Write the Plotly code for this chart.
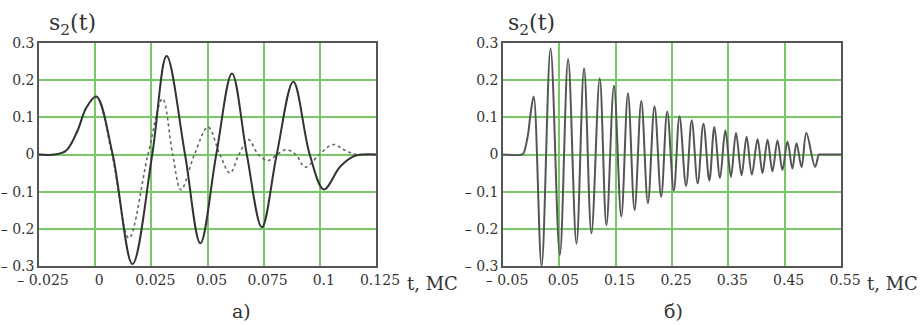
import plotly.graph_objects as go

# ---------------- data ----------------
# panel a) : time in ms, solid and dotted s2(t)
A_T_SOLID = [-0.025, -0.018, -0.013, -0.008, -0.004, 0.0005, 0.0078, 0.0166, 0.0254, 0.0318,
             0.0400, 0.0468, 0.0539, 0.0609, 0.0675, 0.0742, 0.0808, 0.0882, 0.0955, 0.1018,
             0.1090, 0.1150, 0.1190, 0.125]
A_V_SOLID = [0, 0, 0.010, 0.062, 0.125, 0.156, 0, -0.295, 0, 0.265,
             0, -0.239, 0, 0.218, 0, -0.196, 0, 0.196, 0, -0.094,
             -0.033, -0.005, 0, 0]

A_T_DOT = [-0.025, -0.018, -0.013, -0.008, -0.004, 0.0005, 0.0075, 0.0150, 0.0235, 0.0300,
           0.0345, 0.0382, 0.0442, 0.0502, 0.0555, 0.0600, 0.0640, 0.0682, 0.0726, 0.0770,
           0.0810, 0.0850, 0.0893, 0.0935, 0.0998, 0.1060, 0.1110, 0.1160, 0.125]
A_V_DOT = [0, 0, 0.010, 0.062, 0.125, 0.156, 0.0, -0.225, 0, 0.150,
           0.0, -0.095, 0, 0.074, 0, -0.050, 0, 0.040, 0, -0.016,
           0, 0.013, 0, -0.034, 0, 0.027, 0.012, 0, 0]

# panel б) : time in ms
B_T = [-0.05, -0.016, -0.013, -0.006, -0.001, 0.0045, 0.0185, 0.0344, 0.0509, 0.0656,
       0.0804, 0.0939, 0.107, 0.1217, 0.1336, 0.147, 0.160, 0.1718, 0.1836, 0.1955,
       0.2072, 0.219, 0.2308, 0.2415, 0.2532, 0.2633, 0.275, 0.285, 0.2956, 0.3058,
       0.3163, 0.3252, 0.3352, 0.3447, 0.3546, 0.3636, 0.3735, 0.3824, 0.3917, 0.4019,
       0.4106, 0.4196, 0.4283, 0.4373, 0.446, 0.455, 0.4637, 0.471, 0.480, 0.4885,
       0.504, 0.511, 0.515, 0.55]
B_V = [0, 0, 0.005, 0.05, 0.11, 0.156, -0.30, 0.285, -0.27, 0.257,
       -0.24, 0.232, -0.212, 0.205, -0.19, 0.185, -0.167, 0.165, -0.149, 0.144,
       -0.131, 0.13, -0.114, 0.116, -0.097, 0.103, -0.085, 0.092, -0.078, 0.083,
       -0.07, 0.074, -0.063, 0.065, -0.06, 0.058, -0.056, 0.048, -0.054, 0.041,
       -0.05, 0.04, -0.045, 0.038, -0.042, 0.035, -0.038, 0.03, -0.034, 0.058,
       -0.033, 0, 0, 0]

# tick labels
A_XTICKS = [-0.025, 0, 0.025, 0.05, 0.075, 0.1, 0.125]
A_XLABELS = ["\u2013 0.025", "0", "0.025", "0.05", "0.075", "0.1", "0.125"]
B_XTICKS = [-0.05, 0.05, 0.15, 0.25, 0.35, 0.45, 0.55]
B_XLABELS = ["\u2013 0.05", "0.05", "0.15", "0.25", "0.35", "0.45", "0.55"]
YTICKS = [-0.3, -0.2, -0.1, 0, 0.1, 0.2, 0.3]
YLABELS = ["\u2013 0.3", "\u2013 0.2", "\u2013 0.1", "0", "0.1", "0.2", "0.3"]

TITLE = "s<sub>2</sub>(t)"
XUNIT = "t, МС"
PANEL_A = "а)"
PANEL_B = "б)"

# ---------------- style ----------------
W, H = 920, 325
GRID = "rgb(120,200,105)"
FRAME = "#555555"
TXT = "#333333"
FONT = "DejaVu Serif"

fig = go.Figure()
fig.add_trace(go.Scatter(x=A_T_DOT, y=A_V_DOT, mode="lines", line_shape="spline",
                         line=dict(color="#666666", width=1.6, dash="dot"),
                         xaxis="x", yaxis="y", showlegend=False))
fig.add_trace(go.Scatter(x=A_T_SOLID, y=A_V_SOLID, mode="lines", line_shape="spline",
                         line=dict(color="#333333", width=2),
                         xaxis="x", yaxis="y", showlegend=False))
fig.add_trace(go.Scatter(x=B_T, y=B_V, mode="lines", line_shape="spline",
                         line=dict(color="#555555", width=2),
                         xaxis="x2", yaxis="y2", showlegend=False))

y_dom = [(H - 266) / H, (H - 43) / H]
xa_dom = [39 / W, 376 / W]
xb_dom = [503 / W, 841 / W]

common_x = dict(showgrid=True, gridcolor=GRID, gridwidth=2, zeroline=False,
                showline=True, linecolor=FRAME, linewidth=1.5, mirror=True,
                ticks="", tickfont=dict(family=FONT, size=14, color=TXT),
                ticklabelshift=4, automargin=False)
common_y = dict(showgrid=True, gridcolor=GRID, gridwidth=2, zeroline=False,
                showline=True, linecolor=FRAME, linewidth=1.5, mirror=True,
                ticks="", tickfont=dict(family=FONT, size=14, color=TXT),
                range=[-0.3, 0.3], tickvals=YTICKS, ticktext=YLABELS, domain=y_dom,
                automargin=False)

fig.update_layout(
    width=W, height=H,
    margin=dict(l=0, r=0, t=0, b=0, autoexpand=False),
    paper_bgcolor="white", plot_bgcolor="white",
    xaxis=dict(domain=xa_dom, range=[-0.025, 0.125], tickvals=A_XTICKS, ticktext=A_XLABELS,
               anchor="y", **common_x),
    yaxis=dict(anchor="x", **common_y),
    xaxis2=dict(domain=xb_dom, range=[-0.05, 0.55], tickvals=B_XTICKS, ticktext=B_XLABELS,
                anchor="y2", **common_x),
    yaxis2=dict(anchor="x2", **common_y),
)

for xpix, txt in [(47, TITLE), (506, TITLE)]:
    fig.add_annotation(x=xpix / W, y=1 - 25 / H, xref="paper", yref="paper", text=txt,
                       showarrow=False, xanchor="left", yanchor="middle",
                       font=dict(family=FONT, size=22, color=TXT))
for xpix, txt in [(405, XUNIT), (865, XUNIT)]:
    fig.add_annotation(x=xpix / W, y=1 - 283 / H, xref="paper", yref="paper", text=txt,
                       showarrow=False, xanchor="left", yanchor="middle",
                       font=dict(family=FONT, size=18, color=TXT))
for xpix, txt in [(242, PANEL_A), (673, PANEL_B)]:
    fig.add_annotation(x=xpix / W, y=1 - 311 / H, xref="paper", yref="paper", text=txt,
                       showarrow=False, xanchor="center", yanchor="middle",
                       font=dict(family=FONT, size=19, color=TXT))

fig.write_html("out.html")
